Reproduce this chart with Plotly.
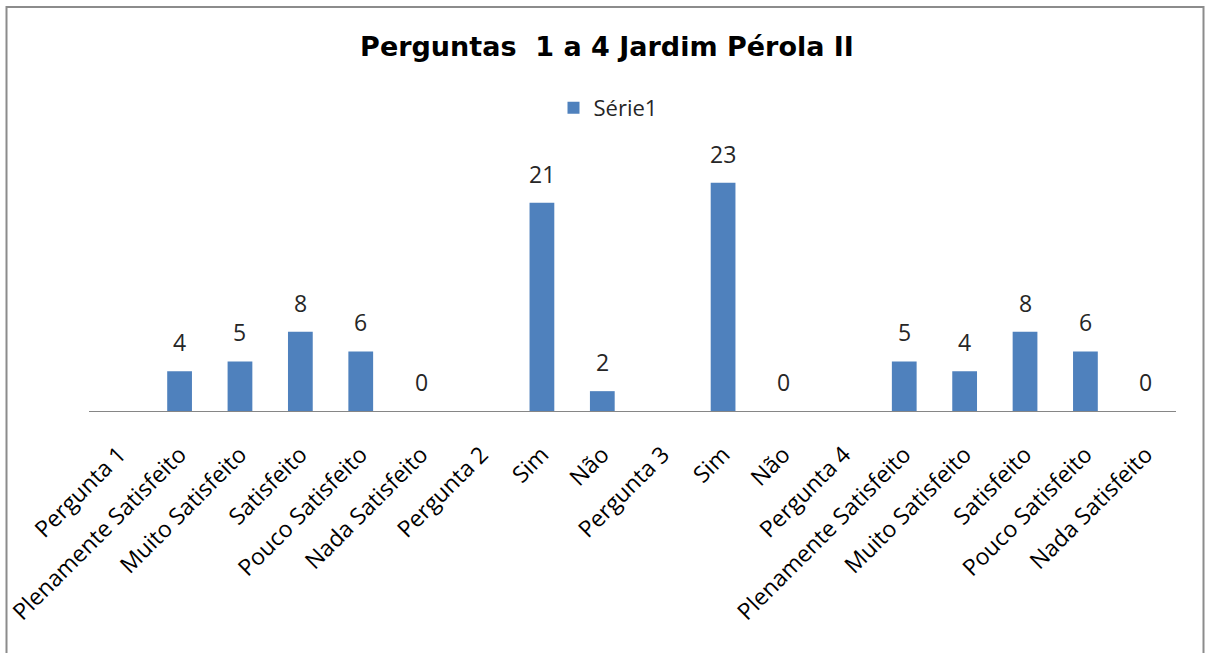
import plotly.graph_objects as go

categories = ["Pergunta 1", "Plenamente Satisfeito", "Muito Satisfeito", "Satisfeito",
              "Pouco Satisfeito", "Nada Satisfeito", "Pergunta 2", "Sim", "Não",
              "Pergunta 3", "Sim", "Não", "Pergunta 4", "Plenamente Satisfeito",
              "Muito Satisfeito", "Satisfeito", "Pouco Satisfeito", "Nada Satisfeito"]
values = [None, 4, 5, 8, 6, 0, None, 21, 2, None, 23, 0, None, 5, 4, 8, 6, 0]
series_name = "Série1"

positions = list(range(len(categories)))

W, H = 1206, 653
L, R, T, B = 89, 1176, 163, 411
FONT = "Open Sans, Lato, sans-serif"

fig = go.Figure()
fig.add_trace(go.Bar(
    x=positions, y=values, name=series_name,
    marker=dict(color="#4F81BD", line=dict(width=0)),
    width=0.41,
    showlegend=True,
))

# data labels placed through the axis scales
for p, v in zip(positions, values):
    if v is None:
        continue
    fig.add_annotation(x=p, y=v, xref="x", yref="y", text=str(v), showarrow=False,
                       yanchor="bottom", yshift=11,
                       font=dict(family=FONT, size=23, color="#262626"))

def px_x(p):
    return (p - L) / (R - L)

def px_y(p):
    return (B - p) / (B - T)

fig.update_layout(
    width=W, height=H,
    margin=dict(l=L, r=W - R, t=T, b=H - B, autoexpand=False),
    paper_bgcolor="white", plot_bgcolor="white",
    title=dict(text="Perguntas\u00a0 1 a 4 Jardim Pérola II",
               x=607 / W, xanchor="center", y=1 - 47 / H, yanchor="middle",
               font=dict(family="DejaVu Sans, Liberation Sans, sans-serif", size=27, color="black", weight="bold")),
    legend=dict(orientation="h", x=px_x(608), xanchor="center", y=px_y(108), yanchor="middle",
                font=dict(family=FONT, size=22, color="#262626"),
                itemwidth=30, bgcolor="rgba(0,0,0,0)"),
    xaxis=dict(tickmode="array", tickvals=positions, ticktext=categories,
               range=[-0.5, len(categories) - 0.5], tickangle=-45,
               showline=True, linecolor="#868686", linewidth=1,
               showgrid=False, zeroline=False, ticks="", ticklabelstandoff=20,
               tickfont=dict(family=FONT, size=23, color="black")),
    yaxis=dict(range=[0, 25], visible=False, showgrid=False, zeroline=False),
    shapes=[dict(type="rect", xref="paper", yref="paper",
                 x0=px_x(6.5), x1=px_x(1203.5), y0=px_y(700), y1=px_y(7),
                 line=dict(color="#8c8c8c", width=2), fillcolor="rgba(0,0,0,0)", layer="above")],
)

fig.write_html("out.html")
